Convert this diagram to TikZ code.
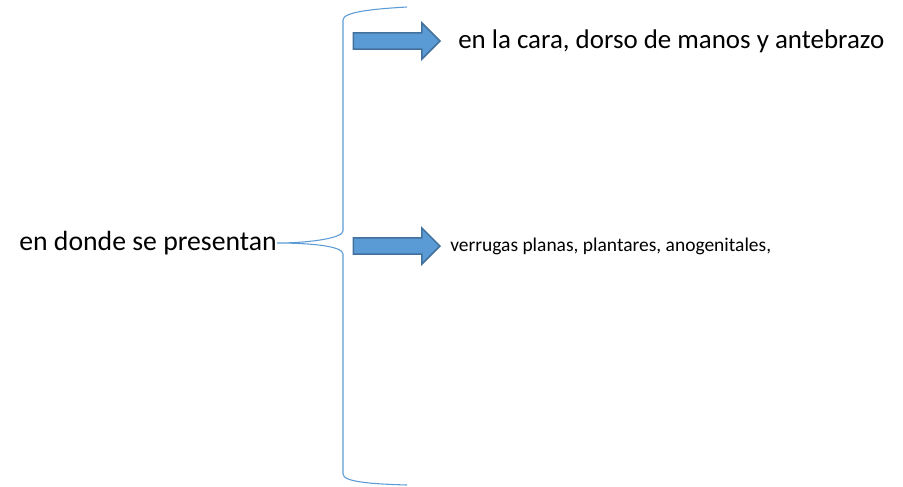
\documentclass[tikz,border=0pt]{standalone}
\usepackage{fontspec}
\setmainfont{Carlito}
\usetikzlibrary{shapes.arrows, positioning}
\definecolor{arrowfill}{HTML}{5B9BD5}
\definecolor{arrowedge}{HTML}{41719C}
\definecolor{braceline}{HTML}{5B9BD5}
\begin{document}
\begin{tikzpicture}[x=0.75pt, y=-0.75pt, blk/.style={single arrow, draw=arrowedge, fill=arrowfill, line width=1.1pt, inner xsep=0pt, inner ysep=5.6pt, minimum height=65pt, single arrow head extend=7.5pt, single arrow tip angle=90}, txt/.style={inner sep=0pt, anchor=west}]
\useasboundingbox (0,0) rectangle (903,486);
\node[blk, anchor=tip] (arrA) at (441,41) {};
\node[blk, anchor=tip] (arrB) at (441,246) {};
\node[txt, font=\fontsize{20.2}{24}\selectfont, right=12.75pt of arrA.tip] (lblA) {en la cara, dorso de manos y antebrazo};
\node[txt, font=\fontsize{14.6}{18}\selectfont, right=6.75pt of arrB.tip] (lblB) {verrugas planas, plantares, anogenitales,};
\node[inner sep=0pt, anchor=east, font=\fontsize{20.8}{24}\selectfont] (src) at (277,243) {en donde se presentan};
% llave
\draw[braceline, line width=0.8pt] (407,7) .. controls (372,9) and (343,12) .. (343,20) -- (343,231) .. controls (343,238) and (310,243) .. (src.east) .. controls (310,243) and (343,246) .. (343,254) -- (343,474) .. controls (343,482) and (372,484) .. (407,485);
\end{tikzpicture}
\end{document}
